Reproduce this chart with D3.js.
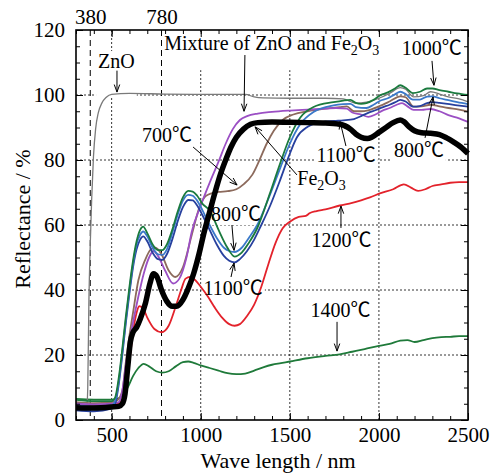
<!DOCTYPE html>
<html>
<head>
<meta charset="utf-8">
<script src="https://cdn.jsdelivr.net/npm/d3@7"></script>
<style>
  body { margin: 0; background: #fff; }
  svg { display: block; }
  text { font-family: "Liberation Serif", "Times New Roman", "Noto Sans CJK JP", serif; fill: #000; }
</style>
</head>
<body>
<svg id="chart" width="494" height="476"></svg>
<script>
// ---- Diffuse reflectance spectra (wavelength in nm, reflectance in %) ----
const wlZnO = [300, 360, 366, 372, 380, 388, 398, 410, 425, 445, 470, 500, 600, 800, 1000, 1250, 1300, 1350, 1500, 1700, 1800, 1840, 1870, 1930, 2000, 2060, 2120, 2150, 2195, 2250, 2290, 2340, 2390, 2450, 2500];
const rZnO  = [3.5, 3.6, 10, 35, 54, 68, 81, 89.5, 94.5, 97.5, 99.3, 100.2, 100.5, 100.3, 100.2, 100.2, 99.4, 99.1, 99, 99, 98.8, 98, 97.5, 97.8, 99, 100.5, 102.3, 101.8, 99.4, 99.8, 101, 100.3, 99.4, 98.8, 97.9];

const wlMix = [300, 400, 500, 540, 560, 580, 600, 620, 650, 680, 710, 735, 760, 800, 845, 880, 920, 950, 1000, 1050, 1100, 1140, 1180, 1220, 1260, 1320, 1400, 1500, 1600, 1700, 1760, 1820, 1850, 1900, 1940, 1980, 2020, 2060, 2100, 2130, 2160, 2195, 2240, 2290, 2340, 2390, 2450, 2500];
const rMix  = [5, 4.8, 5, 5.5, 9, 17, 24, 30, 38, 45, 50, 52, 50.5, 46, 42, 43.5, 50, 58, 66, 73, 79.5, 85, 89.5, 92.3, 93.5, 94.3, 94.8, 95.2, 95.5, 95.8, 96, 95.8, 94.6, 94, 93.3, 94, 95.2, 96, 97, 97.5, 96.5, 95.4, 95.4, 95.7, 95, 93.8, 92.8, 91.7];

const wlFe = [300, 400, 500, 540, 560, 575, 590, 605, 620, 640, 660, 690, 715, 735, 755, 780, 810, 840, 865, 900, 930, 960, 990, 1020, 1050, 1080, 1110, 1140, 1170, 1200, 1240, 1280, 1320, 1400, 1500, 1600, 1700, 1780, 1810, 1840, 1870, 1900, 1935, 1960, 2000, 2040, 2080, 2120, 2140, 2170, 2200, 2240, 2290, 2340, 2380, 2420, 2460, 2500];
const rFe  = [3.8, 3.7, 4, 4.2, 5, 8, 16, 24, 27, 28.5, 31, 36, 42, 45, 44, 40, 36.5, 35, 35, 37, 40.5, 45, 51, 58, 64, 70, 75.5, 80, 84, 87, 89.5, 91, 91.5, 91.7, 91.6, 91.5, 91.4, 91, 90.5, 89.5, 88, 87, 86.6, 87, 88.5, 90, 91.5, 92.3, 91.8, 90.2, 89, 88.4, 88.2, 87.8, 86.8, 85.5, 84, 82];

const wl700 = [300, 400, 500, 530, 560, 580, 600, 620, 650, 690, 720, 745, 780, 820, 857, 900, 950, 990, 1030, 1100, 1150, 1200, 1240, 1290, 1330, 1370, 1410, 1460, 1520, 1600, 1700, 1780, 1820, 1860, 1900, 1940, 2000, 2060, 2120, 2150, 2195, 2240, 2290, 2340, 2390, 2450, 2500];
const r700  = [5.5, 5.2, 5.5, 6, 9, 18, 26, 33, 43, 49.5, 52.5, 53, 51, 46, 44, 47, 57, 65, 69, 70.2, 70.4, 71, 72.5, 75.5, 80, 85, 89, 92.3, 94, 95, 95.8, 96.3, 96.5, 95, 95, 95.3, 96.5, 98, 99.6, 99.3, 96.4, 96.5, 97, 96.5, 96, 95.5, 94.9];

const wl800 = [300, 400, 500, 520, 540, 560, 580, 600, 620, 640, 660, 677, 700, 730, 760, 785, 810, 840, 870, 900, 930, 955, 980, 1010, 1050, 1090, 1130, 1160, 1190, 1230, 1270, 1317, 1390, 1446, 1500, 1558, 1633, 1745, 1800, 1840, 1870, 1930, 1970, 2010, 2050, 2090, 2120, 2150, 2190, 2230, 2270, 2300, 2340, 2390, 2440, 2500];
const r800  = [4.5, 4.2, 4.5, 6, 12, 21, 31, 40, 48, 54, 57, 58, 56.5, 53, 51, 50.8, 52.5, 57.5, 63, 67.5, 69.3, 69, 67.5, 64.5, 60, 56, 53, 52, 51.7, 53, 56, 60, 69.5, 77.5, 85, 91, 94.8, 96.8, 97.2, 97.3, 96.3, 96, 97, 98.3, 99, 100.2, 101, 100.3, 98.6, 98.6, 99.5, 99.6, 99, 98.4, 97.8, 97.2];

const wl1000 = [300, 400, 500, 520, 540, 560, 580, 600, 620, 640, 660, 677, 700, 730, 760, 785, 810, 840, 870, 900, 930, 955, 980, 1010, 1050, 1100, 1150, 1190, 1230, 1270, 1317, 1390, 1446, 1500, 1558, 1633, 1745, 1800, 1840, 1870, 1900, 1930, 1970, 2010, 2050, 2090, 2120, 2150, 2190, 2230, 2270, 2300, 2340, 2390, 2440, 2500];
const r1000  = [6.2, 5.8, 5.8, 7, 13, 22, 32, 41, 49, 55, 58.5, 59.5, 57.5, 54, 52.3, 52.3, 54, 58.5, 64, 68.5, 70.5, 70.3, 69, 66.5, 64.5, 58.5, 53, 50.3, 51.5, 54.5, 59, 70, 79, 87, 93, 96.3, 97.8, 98.3, 98.5, 97.6, 97.3, 97.5, 98.5, 100, 100.8, 102, 103, 102.2, 100.6, 101, 102, 102, 101.5, 101, 100.5, 100];

const wl1100 = [300, 400, 500, 520, 540, 560, 580, 600, 620, 640, 660, 677, 700, 730, 760, 785, 810, 840, 870, 900, 930, 955, 980, 1010, 1050, 1090, 1130, 1160, 1190, 1220, 1260, 1300, 1340, 1390, 1440, 1490, 1540, 1600, 1670, 1750, 1800, 1860, 1900, 1940, 1980, 2020, 2060, 2100, 2120, 2150, 2190, 2230, 2270, 2300, 2340, 2384, 2440, 2500];
const r1100  = [3, 2.7, 3.5, 5, 11, 20, 30, 39, 47, 52.5, 55.5, 56.5, 55, 51.5, 49.5, 49.3, 51, 55.5, 61, 65.5, 67.7, 67.6, 66, 63, 58.5, 54, 50.5, 49, 48.5, 49.5, 52, 55.5, 60, 66, 73, 80.5, 87, 90.2, 91.6, 92, 92.2, 92.6, 93.5, 94.5, 95.3, 96.2, 97, 98, 98.5, 98, 96.4, 96.6, 97.5, 97.8, 97.6, 97.3, 96.8, 96.4];

const wl1200 = [300, 400, 500, 540, 560, 580, 600, 620, 640, 655, 675, 700, 740, 780, 820, 860, 890, 915, 940, 970, 1000, 1040, 1080, 1120, 1160, 1190, 1220, 1260, 1300, 1340, 1380, 1420, 1460, 1500, 1550, 1590, 1610, 1650, 1700, 1780, 1850, 1900, 1950, 2010, 2080, 2140, 2180, 2220, 2260, 2300, 2350, 2400, 2450, 2500];
const r1200  = [4.7, 4.6, 4.8, 5, 6.5, 10, 18, 27, 33, 35, 34.5, 31.5, 28, 27, 29, 35, 40, 43.5, 44, 43, 41, 38, 34.5, 31.5, 29.5, 29, 29.5, 32, 35.5, 41, 48, 54.5, 59, 61, 62.5, 62.8, 63.6, 64.3, 64.8, 66, 66.8, 67.6, 68.5, 69.8, 71, 72.5, 71.5, 70.5, 71, 72, 72.5, 73, 73.2, 73.2];

const wl1400 = [300, 400, 500, 530, 560, 590, 620, 650, 680, 710, 750, 785, 820, 860, 900, 930, 960, 1000, 1050, 1100, 1150, 1200, 1250, 1300, 1350, 1400, 1450, 1500, 1600, 1700, 1780, 1850, 1920, 2000, 2060, 2120, 2160, 2200, 2250, 2300, 2350, 2400, 2450, 2500];
const r1400  = [6.5, 6.3, 6.3, 6.5, 7.5, 10, 13.5, 16, 17.3, 16.5, 15, 14.6, 15, 16.5, 17.8, 18, 17.6, 16.8, 16, 15.2, 14.4, 14.1, 14.3, 15.2, 16.2, 17, 17.5, 18, 19, 19.7, 20.2, 21, 21.8, 22.8, 23.4, 24.4, 24.6, 24, 24.6, 25.2, 25.5, 25.6, 25.8, 25.8];

// ---- Axis ticks ----
const xMajorTicks = [500, 1000, 1500, 2000, 2500];
const xMinorTicks = d3.range(300, 2501, 100);
const yMajorTicks = [0, 20, 40, 60, 80, 100, 120];
const yMinorTicks = d3.range(0, 121, 5);
const topTicks = [380, 780];
const gridX = [500, 1000, 1500, 2000];
const gridY = [20, 40, 60, 80, 100];

// ---- Scales ----
const svg = d3.select("#chart");
const x = d3.scaleLinear().domain([300, 2500]).range([76, 468]);
const y = d3.scaleLinear().domain([0, 120]).range([420, 30]);

// ---- Grid ----
const grid = svg.append("g").attr("class", "grid");
grid.selectAll("line.gx").data(gridX).join("line")
  .attr("x1", d => x(d)).attr("x2", d => x(d))
  .attr("y1", y(120)).attr("y2", y(0))
  .attr("stroke", "#000").attr("stroke-width", 0.8).attr("stroke-dasharray", "2,2");
grid.selectAll("line.gy").data(gridY).join("line")
  .attr("x1", x(300)).attr("x2", x(2500))
  .attr("y1", d => y(d)).attr("y2", d => y(d))
  .attr("stroke", "#000").attr("stroke-width", 0.8).attr("stroke-dasharray", "2,2");
grid.selectAll("line.gt").data(topTicks).join("line")
  .attr("x1", d => x(d)).attr("x2", d => x(d))
  .attr("y1", y(120)).attr("y2", y(0))
  .attr("stroke", "#000").attr("stroke-width", 1).attr("stroke-dasharray", "6,4");

// Layers: label backgrounds sit under the spectra, label text above them
const boxLayer = svg.append("g");
const curveLayer = svg.append("g");
const labelLayer = svg.append("g");

// ---- Spectra ----
const line = d3.line().x(d => x(d[0])).y(d => y(d[1])).curve(d3.curveMonotoneX);
const series = [
  { wl: wl1400, r: r1400, color: "#1f7a3a", w: 1.8 },
  { wl: wl1200, r: r1200, color: "#e3222b", w: 1.8 },
  { wl: wlZnO,  r: rZnO,  color: "#7a7a7a", w: 1.3 },
  { wl: wl700,  r: r700,  color: "#8c6a5c", w: 1.8 },
  { wl: wlMix,  r: rMix,  color: "#9b4fc4", w: 1.8 },
  { wl: wl1100, r: r1100, color: "#27409e", w: 1.8 },
  { wl: wl800,  r: r800,  color: "#3a78c9", w: 1.8 },
  { wl: wl1000, r: r1000, color: "#1a7a3e", w: 1.8 },
  { wl: wlFe,   r: rFe,   color: "#000000", w: 5.5 }
];
curveLayer.selectAll("path").data(series).join("path")
  .attr("d", s => line(d3.zip(s.wl, s.r)))
  .attr("fill", "none")
  .attr("stroke", s => s.color)
  .attr("stroke-width", s => s.w)
  .attr("stroke-linejoin", "round");

// ---- Axes (ticks point inward) ----
const axes = svg.append("g");
const fmt = d3.format("d");
axes.append("g").attr("transform", `translate(0,${y(0)})`)
  .call(d3.axisBottom(x).tickValues(xMajorTicks).tickSize(-7).tickPadding(7).tickFormat(fmt));
axes.append("g").attr("transform", `translate(0,${y(0)})`)
  .call(d3.axisBottom(x).tickValues(xMinorTicks).tickSize(-4).tickFormat(""));
axes.append("g").attr("transform", `translate(0,${y(120)})`)
  .call(d3.axisTop(x).tickValues(xMinorTicks).tickSize(-4).tickFormat(""));
axes.append("g").attr("transform", `translate(0,${y(120)})`)
  .call(d3.axisTop(x).tickValues(xMajorTicks).tickSize(-7).tickFormat(""));
axes.append("g").attr("transform", `translate(0,${y(120)})`)
  .call(d3.axisTop(x).tickValues(topTicks).tickSize(0).tickPadding(6).tickFormat(fmt));
axes.append("g").attr("transform", `translate(${x(300)},0)`)
  .call(d3.axisLeft(y).tickValues(yMajorTicks).tickSize(-7).tickPadding(11).tickFormat(fmt));
axes.append("g").attr("transform", `translate(${x(300)},0)`)
  .call(d3.axisLeft(y).tickValues(yMinorTicks).tickSize(-4).tickFormat(""));
axes.append("g").attr("transform", `translate(${x(2500)},0)`)
  .call(d3.axisRight(y).tickValues(yMajorTicks).tickSize(-7).tickFormat(""));
axes.append("g").attr("transform", `translate(${x(2500)},0)`)
  .call(d3.axisRight(y).tickValues(yMinorTicks).tickSize(-4).tickFormat(""));
axes.selectAll(".domain").remove();
axes.selectAll("g").attr("font-family", null).attr("font-size", null);
axes.selectAll(".tick line").attr("stroke", "#000").attr("stroke-width", 1);
axes.selectAll(".tick text")
  .style("font-family", '"Liberation Serif", "Times New Roman", serif')
  .style("font-size", "21px").attr("fill", "#000");

svg.append("rect")
  .attr("x", x(300)).attr("y", y(120))
  .attr("width", x(2500) - x(300)).attr("height", y(0) - y(120))
  .attr("fill", "none").attr("stroke", "#000").attr("stroke-width", 1.6);

// Axis titles
svg.append("text")
  .attr("x", (x(300) + x(2500)) / 2 + 6).attr("y", 468)
  .attr("text-anchor", "middle").style("font-size", "22px")
  .text("Wave length / nm");
svg.append("text")
  .attr("transform", `translate(30,${(y(0) + y(120)) / 2 - 6}) rotate(-90)`)
  .attr("text-anchor", "middle").style("font-size", "22px")
  .text("Reflectance / %");

// ---- Annotations: text position and arrow (tail -> head) in data units ----
const labels = [
  { parts: [["ZnO"]], at: [424, 108.3], arrow: [[530, 107.5], [530, 100.9]], padB: 26 },
  { parts: [["Mixture of ZnO and Fe"], ["2", "sub"], ["O"], ["3", "sub"]], at: [795, 113.8], arrow: [[1248, 112.3], [1243, 95]], padB: 12 },
  { parts: [["1000℃"]], at: [2128, 112.3], arrow: [[2298, 110.5], [2309, 103]] },
  { parts: [["700℃"]], at: [670, 85.5], arrow: [[957, 84], [1204, 72.3]] },
  { parts: [["800℃"]], at: [1057, 61.2], arrow: [[1175, 60], [1187, 52.2]] },
  { parts: [["1100℃"]], at: [1016, 38.5], arrow: [[1170, 44], [1187, 48.3]] },
  { parts: [["Fe"], ["2", "sub"], ["O"], ["3", "sub"]], at: [1542, 72.3], arrow: [[1540, 75.4], [1305, 90.2]] },
  { parts: [["1100℃"]], at: [1650, 79.4], arrow: [[1815, 84.3], [1782, 91.8]] },
  { parts: [["800℃"]], at: [2084, 80.9], arrow: [[2259, 86.8], [2304, 99.4]] },
  { parts: [["1200℃"]], at: [1622, 53.2], arrow: [[1787, 59.1], [1787, 65.8]] },
  { parts: [["1400℃"]], at: [1616, 31.7], arrow: [[1765, 30.2], [1765, 21.2]] }
];

labels.forEach(l => {
  const t = labelLayer.append("text")
    .attr("x", x(l.at[0])).attr("y", y(l.at[1]))
    .style("font-size", "20px");
  l.parts.forEach((p, i) => {
    const ts = t.append("tspan").text(p[0]);
    if (p[1] === "sub") ts.style("font-size", "14px").attr("dy", 5);
    else if (i > 0) ts.attr("dy", -5);
  });
  const b = t.node().getBBox();
  boxLayer.append("rect")
    .attr("x", b.x - 2).attr("y", b.y + 1)
    .attr("width", b.width + 4).attr("height", b.height - 1 + (l.padB || 0))
    .attr("fill", "#fff");
});

// Arrows with open V heads
const arrows = labelLayer.append("g").attr("stroke", "#000").attr("stroke-width", 1).attr("fill", "none");
labels.forEach(l => {
  const [p0, p1] = l.arrow;
  const x0 = x(p0[0]), y0 = y(p0[1]), x1 = x(p1[0]), y1 = y(p1[1]);
  arrows.append("line").attr("x1", x0).attr("y1", y0).attr("x2", x1).attr("y2", y1);
  const a = Math.atan2(y1 - y0, x1 - x0), hl = 8, hw = 0.35;
  arrows.append("path")
    .attr("d", `M${x1 - hl * Math.cos(a - hw)},${y1 - hl * Math.sin(a - hw)}L${x1},${y1}L${x1 - hl * Math.cos(a + hw)},${y1 - hl * Math.sin(a + hw)}`);
});
</script>
</body>
</html>
